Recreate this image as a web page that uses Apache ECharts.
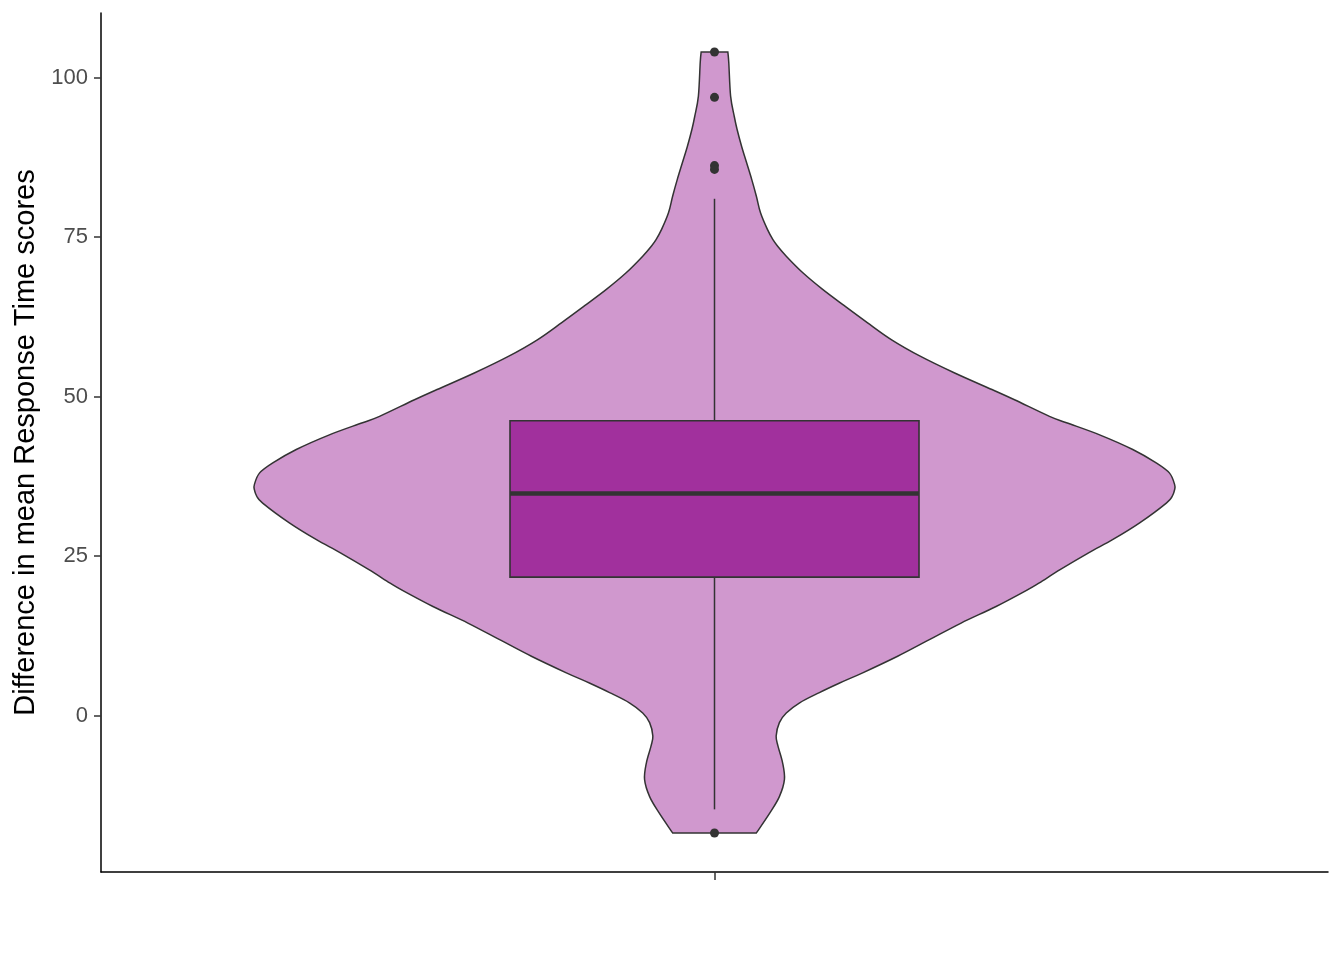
<!DOCTYPE html>
<html><head><meta charset="utf-8">
<script src="https://cdn.jsdelivr.net/npm/echarts@6/dist/echarts.min.js"></script>
<style>html,body{margin:0;padding:0;background:#fff}#c{width:1344px;height:960px}</style>
</head><body><div id="c"></div>
<script>
// ---- data ----
const categories = [''];
const violinY = [104.0, 102.4, 97.1, 93.9, 91.9, 89.2, 86.6, 84.0, 81.4, 78.8, 76.2, 74.6, 73.6, 72.0, 69.4, 66.8, 64.2, 61.6, 58.9, 56.3, 53.7, 51.1, 49.5, 46.9, 45.9, 44.0, 41.7, 39.6, 38.0, 36.2, 35.4, 34.4, 33.3, 30.2, 27.6, 25.5, 22.9, 20.8, 19.7, 17.1, 14.5, 11.9, 9.3, 6.7, 5.1, 3.6, 2.0, 0.4, -1.1, -3.2, -4.8, -7.4, -10.0, -12.7, -15.3, -18.4];
const violinDensity = [0.029, 0.031, 0.035, 0.043, 0.049, 0.059, 0.070, 0.081, 0.091, 0.100, 0.115, 0.127, 0.137, 0.156, 0.192, 0.235, 0.283, 0.332, 0.385, 0.448, 0.522, 0.603, 0.652, 0.728, 0.765, 0.837, 0.909, 0.960, 0.989, 1.0, 1.0, 0.995, 0.982, 0.924, 0.866, 0.813, 0.752, 0.706, 0.680, 0.612, 0.536, 0.467, 0.398, 0.322, 0.272, 0.228, 0.185, 0.156, 0.141, 0.134, 0.138, 0.148, 0.152, 0.141, 0.120, 0.091];
const boxStats = { whiskerLow: -14.7, q1: 21.7, median: 34.8, q3: 46.2, whiskerHigh: 81.0 };
const outliers = [104.0, 96.9, 86.2, 85.6, -18.4];
const yTicks = [0, 25, 50, 75, 100];
const yTitle = 'Difference in mean Response Time scores';

// ---- layout / style constants ----
const VIOLIN_HALF = 0.45, BOX_HALF = 0.2, CENTER = 1;
const OUTLINE = '#333333';
const allVals = violinY.concat(outliers);
const dMin = Math.min(...allVals), dMax = Math.max(...allVals);
const pad = (dMax - dMin) * 0.05;

// smooth path through the read outline points (Catmull-Rom -> cubic Bezier), rendering only
function smoothPath(pts) {
  let d = 'M' + pts[0][0] + ',' + pts[0][1];
  for (let i = 0; i < pts.length - 1; i++) {
    const p0 = pts[Math.max(i - 1, 0)], p1 = pts[i], p2 = pts[i + 1], p3 = pts[Math.min(i + 2, pts.length - 1)];
    const c1 = [p1[0] + (p2[0] - p0[0]) / 6, p1[1] + (p2[1] - p0[1]) / 6];
    const c2 = [p2[0] - (p3[0] - p1[0]) / 6, p2[1] - (p3[1] - p1[1]) / 6];
    d += 'C' + c1[0] + ',' + c1[1] + ' ' + c2[0] + ',' + c2[1] + ' ' + p2[0] + ',' + p2[1];
  }
  return d;
}

const chart = echarts.init(document.getElementById('c'), null, { renderer: 'canvas' });
chart.setOption({
  animation: false,
  backgroundColor: '#ffffff',
  textStyle: { fontFamily: 'Liberation Sans, Arial, sans-serif' },
  grid: { left: 101, right: 16, top: 13, bottom: 88, containLabel: false },
  xAxis: {
    type: 'value', min: 0.4, max: 1.6,
    axisLine: { show: true, onZero: false, lineStyle: { color: '#000', width: 1.5 } },
    axisTick: { show: true, customValues: [CENTER], length: 8, lineStyle: { color: OUTLINE, width: 1.5 } },
    axisLabel: { customValues: [CENTER], formatter: () => categories[0], fontSize: 22, color: '#4D4D4D' },
    splitLine: { show: false }
  },
  yAxis: {
    type: 'value', min: dMin - pad, max: dMax + pad,
    axisLine: { show: true, onZero: false, lineStyle: { color: '#000', width: 1.5 } },
    axisTick: { show: true, customValues: yTicks, length: 7, lineStyle: { color: OUTLINE, width: 1.5 } },
    axisLabel: { customValues: yTicks, fontSize: 22, color: '#4D4D4D', margin: 13 },
    splitLine: { show: false },
    name: yTitle, nameLocation: 'middle', nameRotate: 90, nameGap: 58,
    nameTextStyle: { fontSize: 29, color: '#000' }
  },
  series: [
    {
      type: 'custom', data: [[CENTER, boxStats.median]], silent: true, z: 1,
      renderItem: function (params, api) {
        const left = [], right = [];
        for (let i = 0; i < violinY.length; i++) {
          const w = violinDensity[i] * VIOLIN_HALF;
          left.push(api.coord([CENTER - w, violinY[i]]));
          right.push(api.coord([CENTER + w, violinY[i]]));
        }
        right.reverse();
        let d = smoothPath(left);
        d += 'L' + right[0][0] + ',' + right[0][1];
        d += smoothPath(right).replace(/^M/, 'L');
        d += 'Z';
        return { type: 'path', shape: { pathData: d }, style: { fill: '#D098CE', stroke: OUTLINE, lineWidth: 1.5 } };
      }
    },
    {
      type: 'custom', data: [[CENTER, boxStats.median]], silent: true, z: 2,
      renderItem: function (params, api) {
        const wTop = api.coord([CENTER, boxStats.whiskerHigh]);
        const q3c = api.coord([CENTER, boxStats.q3]);
        const q1c = api.coord([CENTER, boxStats.q1]);
        const wLow = api.coord([CENTER, boxStats.whiskerLow]);
        const tl = api.coord([CENTER - BOX_HALF, boxStats.q3]);
        const br = api.coord([CENTER + BOX_HALF, boxStats.q1]);
        const mL = api.coord([CENTER - BOX_HALF, boxStats.median]);
        const mR = api.coord([CENTER + BOX_HALF, boxStats.median]);
        return {
          type: 'group', children: [
            { type: 'line', shape: { x1: wTop[0], y1: wTop[1], x2: q3c[0], y2: q3c[1] }, style: { stroke: OUTLINE, lineWidth: 1.5 } },
            { type: 'line', shape: { x1: q1c[0], y1: q1c[1], x2: wLow[0], y2: wLow[1] }, style: { stroke: OUTLINE, lineWidth: 1.5 } },
            { type: 'rect', shape: { x: tl[0], y: tl[1], width: br[0] - tl[0], height: br[1] - tl[1] }, style: { fill: '#A1309D', stroke: OUTLINE, lineWidth: 1.6 } },
            { type: 'line', shape: { x1: mL[0], y1: mL[1], x2: mR[0], y2: mR[1] }, style: { stroke: OUTLINE, lineWidth: 4.5 } }
          ]
        };
      }
    },
    {
      type: 'scatter', z: 3, silent: true,
      data: outliers.map(v => [CENTER, v]),
      symbol: 'circle', symbolSize: 9,
      itemStyle: { color: OUTLINE, opacity: 1 }
    }
  ]
});
</script>
</body></html>
